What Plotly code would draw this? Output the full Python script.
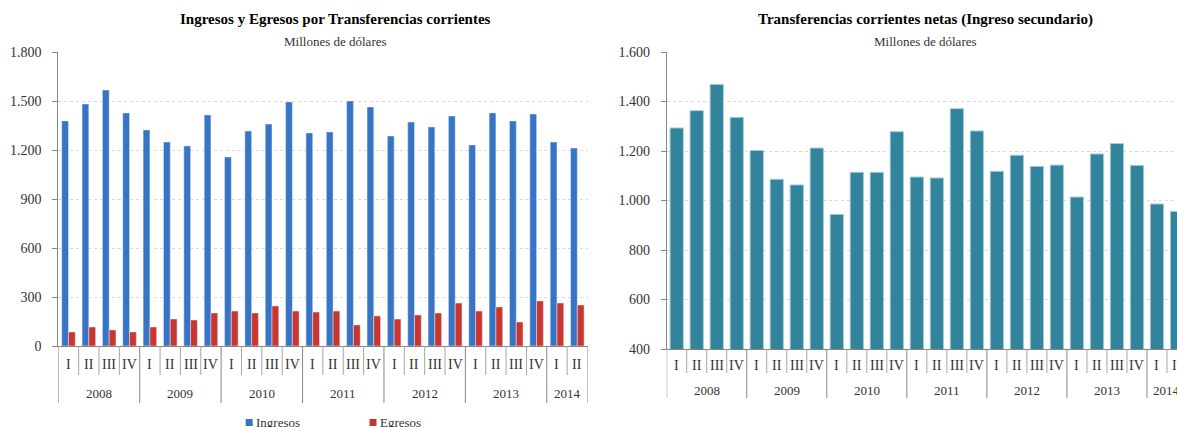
import plotly.graph_objects as go

# ---------------- data ----------------
years = ["2008", "2009", "2010", "2011", "2012", "2013", "2014"]
quarters_per_year = [4, 4, 4, 4, 4, 4, 2]
quarter_names = ["I", "II", "III", "IV"]
quarters = [quarter_names[q] for n in quarters_per_year for q in range(n)]

ingresos = [1378, 1482, 1567, 1427, 1323, 1249, 1225, 1415, 1157, 1316, 1359, 1494, 1304,
            1310, 1500, 1463, 1286, 1371, 1341, 1408, 1231, 1427, 1378, 1420, 1249, 1212]
egresos = [86, 116, 98, 86, 116, 165, 159, 202, 214, 202, 245, 214, 208,
           214, 129, 184, 165, 190, 202, 263, 214, 239, 147, 276, 263, 251]
netas = [1293, 1363, 1469, 1336, 1202, 1086, 1063, 1212, 944, 1114, 1114, 1278, 1095,
         1091, 1371, 1281, 1118, 1183, 1138, 1143, 1014, 1188, 1230, 1142, 986, 956]

title_left = "Ingresos y Egresos por Transferencias corrientes"
title_right = "Transferencias corrientes netas (Ingreso secundario)"
subtitle = "Millones de dólares"

# ---------------- layout helpers ----------------
W, H = 1177, 427
FONT = "Liberation Serif"
AXIS_C = "#868686"
SEP_C = "#a6a6a6"
TXT_C = "#333333"


def py(sy):
    """pixel from top -> paper fraction"""
    return (H - sy) / H


def pxx(sx):
    """pixel from left -> paper fraction"""
    return sx / W


idx = list(range(len(quarters)))

fig = go.Figure()
fig.add_trace(go.Bar(x=idx, y=ingresos, name="Ingresos", marker_color="#3874c6",
                     xaxis="x", yaxis="y", showlegend=False))
fig.add_trace(go.Bar(x=idx, y=egresos, name="Egresos", marker_color="#c8362f",
                     xaxis="x", yaxis="y", showlegend=False))
fig.add_trace(go.Bar(x=idx, y=netas, name="Netas", marker_color="#31849b",
                     marker_line=dict(color="#a8ccd7", width=1),
                     xaxis="x2", yaxis="y2", showlegend=False))

common_x = dict(showticklabels=False, showgrid=False, zeroline=False, showline=True,
                linecolor=AXIS_C, linewidth=1, ticks="", fixedrange=True, automargin=False)
common_y = dict(showgrid=True, gridcolor="#d9d9d9", griddash="dot", gridwidth=1,
                zeroline=False, showline=True, linecolor=AXIS_C, linewidth=1,
                ticks="outside", ticklen=5, tickcolor=AXIS_C, tickformat=",d",
                tickfont=dict(family=FONT, size=14, color=TXT_C), ticklabelstandoff=8,
                fixedrange=True, automargin=False)

fig.update_layout(
    width=W, height=H, autosize=False,
    margin=dict(l=0, r=0, t=0, b=0, pad=0, autoexpand=False),
    paper_bgcolor="white", plot_bgcolor="white",
    separators=",.",
    barmode="group", bargap=0.335, bargroupgap=0,
    xaxis=dict(domain=[pxx(58.3), pxx(587.5)], range=[-0.5, len(idx) - 0.5], anchor="y", **common_x),
    yaxis=dict(domain=[py(346), py(52)], range=[0, 1800], dtick=300, anchor="x", **common_y),
    xaxis2=dict(domain=[pxx(666.7), 1.0], range=[-0.5, 25.0], anchor="y2", **common_x),
    yaxis2=dict(domain=[py(349), py(52)], range=[400, 1600], dtick=200, anchor="x2", **common_y),
)

shapes = []
annotations = []

# category label rows (quarters and years) for both charts
specs = [
    dict(xref="x", axis_px=346, q_end=375, y_end=403, q_y=364, y_y=393),
    dict(xref="x2", axis_px=349, q_end=373, y_end=398, q_y=365, y_y=390),
]
year_starts = []
s = 0
for n in quarters_per_year:
    year_starts.append(s)
    s += n
year_bounds = set(year_starts + [s])

for sp in specs:
    for b in range(len(quarters) + 1):
        is_year = b in year_bounds
        shapes.append(dict(type="line", xref=sp["xref"], yref="paper",
                           x0=b - 0.5, x1=b - 0.5, y0=py(sp["axis_px"]),
                           y1=py(sp["y_end"] if is_year else sp["q_end"]),
                           line=dict(color=SEP_C if not is_year else AXIS_C, width=1)))
    for i, q in enumerate(quarters):
        annotations.append(dict(xref=sp["xref"], yref="paper", x=i, y=py(sp["q_y"]),
                                text=q, showarrow=False, xanchor="center", yanchor="middle",
                                font=dict(family=FONT, size=14, color=TXT_C)))
    for yr, st, n in zip(years, year_starts, quarters_per_year):
        annotations.append(dict(xref=sp["xref"], yref="paper", x=st + (n - 1) / 2, y=py(sp["y_y"]),
                                text=yr, showarrow=False, xanchor="center", yanchor="middle",
                                font=dict(family=FONT, size=13, color=TXT_C)))

# titles
for cx, t in [(335.5, title_left), (925, title_right)]:
    annotations.append(dict(xref="paper", yref="paper", x=pxx(cx), y=py(19), text="<b>%s</b>" % t,
                            showarrow=False, xanchor="center", yanchor="middle",
                            font=dict(family=FONT, size=15, color="black")))
    annotations.append(dict(xref="paper", yref="paper", x=pxx(cx), y=py(41), text=subtitle,
                            showarrow=False, xanchor="center", yanchor="middle",
                            font=dict(family=FONT, size=13, color=TXT_C)))

# legend for left chart
for x0, name, col in [(245.7, "Ingresos", "#3874c6"), (369.5, "Egresos", "#c8362f")]:
    shapes.append(dict(type="rect", xref="paper", yref="paper", x0=pxx(x0), x1=pxx(x0 + 7),
                       y0=py(426), y1=py(419), fillcolor=col, line=dict(width=0)))
    annotations.append(dict(xref="paper", yref="paper", x=pxx(x0 + 8.5), y=py(422.5), text=name,
                            showarrow=False, xanchor="left", yanchor="middle",
                            font=dict(family=FONT, size=13, color=TXT_C)))

fig.update_layout(shapes=shapes, annotations=annotations)
fig.write_html(
    "out.html",
    config={"displayModeBar": False, "responsive": False},
    post_script=(
        "document.documentElement.style.overflow='hidden';"
        "document.body.style.overflow='hidden';"
        "document.body.style.margin='0';"
        "var gd=document.getElementById('{plot_id}');"
        "gd.style.width='1177px';gd.style.height='427px';"
        "Plotly.relayout(gd,{width:1177,height:427});"
    ),
)
